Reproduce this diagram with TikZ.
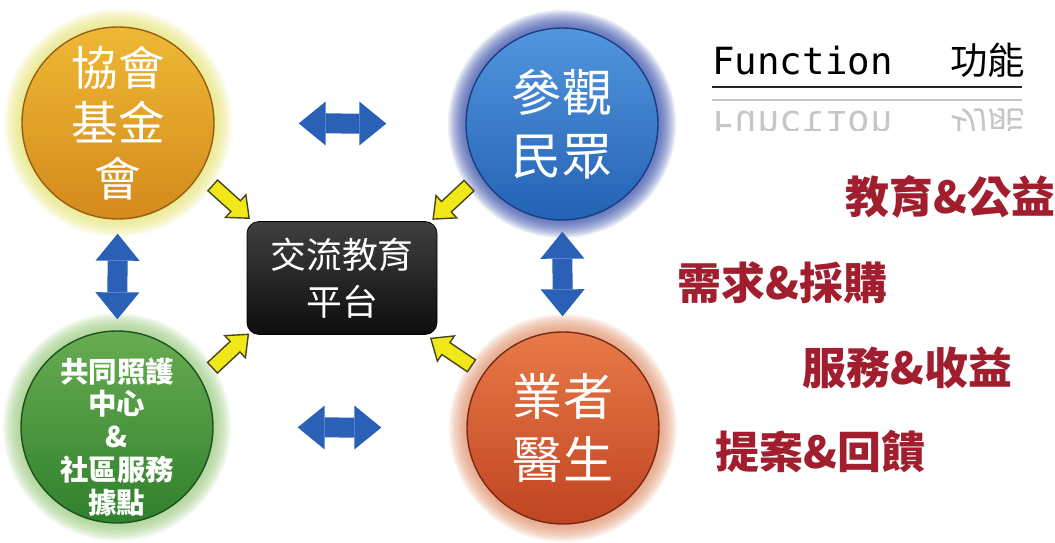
\documentclass[tikz,border=0pt]{standalone}
\usepackage{fontspec}
\setmainfont{DejaVu Sans}
\newfontfamily\cjk{Noto Sans CJK TC}
\newfontfamily\monofn{DejaVu Sans Mono}
\usetikzlibrary{arrows.meta,shapes.arrows,calc}

\definecolor{yeltop}{RGB}{238,184,52}
\definecolor{yelbot}{RGB}{212,138,28}
\definecolor{yelrim}{RGB}{150,95,20}
\definecolor{yelglow}{RGB}{228,226,110}
\definecolor{blutop}{RGB}{82,150,222}
\definecolor{blubot}{RGB}{36,98,180}
\definecolor{blurim}{RGB}{25,60,130}
\definecolor{bluglow}{RGB}{45,70,165}
\definecolor{grntop}{RGB}{104,172,82}
\definecolor{grnbot}{RGB}{48,128,44}
\definecolor{grnrim}{RGB}{30,80,30}
\definecolor{grnglow}{RGB}{150,200,120}
\definecolor{orgtop}{RGB}{232,122,72}
\definecolor{orgbot}{RGB}{192,68,34}
\definecolor{orgrim}{RGB}{120,40,20}
\definecolor{orgglow}{RGB}{222,140,100}
\definecolor{arrblue}{RGB}{42,96,182}
\definecolor{arryel}{RGB}{240,232,24}
\definecolor{yeldark}{RGB}{70,70,30}
\definecolor{fnred}{RGB}{160,30,45}

\begin{document}
\begin{tikzpicture}[
  ball/.style n args={3}{circle, minimum size=3.84cm, inner sep=0pt, top color=#1, bottom color=#2, draw=#3, line width=0.8pt, text=white, align=center},
  platbox/.style={rectangle, rounded corners=0.24cm, minimum width=3.8cm, minimum height=2.26cm, top color=black!75, bottom color=black!95, draw=black, text=white, align=center, font=\cjk\fontsize{20.4}{26.6}\selectfont},
  bluearr/.style={draw=arrblue, line width=0.4cm, >={Triangle[length=0.54cm,width=0.88cm,line width=0pt]}, <->},
  yelarr/.style={single arrow, draw=yeldark, fill=arryel, line width=0.8pt, minimum height=0.98cm, inner sep=0.13cm, single arrow head extend=0.16cm, single arrow tip angle=80},
  fn/.style={anchor=west, inner sep=0pt, text=fnred, font=\cjk\bfseries\fontsize{25}{25}\selectfont},
  ttlfont/.style={font=\monofn\fontsize{21.3}{24}\selectfont}
]
\useasboundingbox (0,0) rectangle (21.1,-10.86);

\coordinate (pyel) at (2.36,-2.46);
\coordinate (pblu) at (11.24,-2.48);
\coordinate (pgrn) at (2.34,-8.54);
\coordinate (porg) at (11.26,-8.56);

% glow round the balls
\foreach \c/\g in {pyel/yelglow, pblu/bluglow, pgrn/grnglow, porg/orgglow}
  \foreach \r in {2.28,2.25,...,1.96}
    \fill[\g, opacity=0.1] (\c) circle [radius=\r];

\node[ball={yeltop}{yelbot}{yelrim}, font=\cjk\fontsize{26.5}{31.7}\selectfont] (yel) at (pyel) {協會\\基金\\會};
\node[ball={blutop}{blubot}{blurim}, font=\cjk\fontsize{28.5}{35.7}\selectfont] (blu) at (pblu) {參觀\\民眾};
\node[ball={grntop}{grnbot}{grnrim}] (grn) at (pgrn) {};
\node[text=white, align=center, font=\cjk\bfseries\fontsize{16.2}{18.7}\selectfont] (grntxt) at ($(grn)+(0,-0.2)$) {共同照護\\中心\\\&\\社區服務\\據點};
\node[ball={orgtop}{orgbot}{orgrim}, font=\cjk\fontsize{28.5}{35.7}\selectfont] (org) at (porg) {業者\\醫生};
\node[platbox] (plat) at (6.84,-5.56) {交流教育\\平台};

\draw[bluearr, shorten <=1.68cm, shorten >=1.58cm] (yel) -- (blu);
\draw[bluearr, shorten <=1.68cm, shorten >=1.7cm] (grn) -- (org);
\draw[bluearr, shorten <=0.28cm, shorten >=0.22cm] (yel) -- (grn);
\draw[bluearr, shorten <=0.22cm, shorten >=0.3cm] (blu) -- (org);

\node[yelarr, rotate=-42] (a1) at ($(yel)!0.49!(plat)$) {};
\node[yelarr, rotate=-137] (a2) at ($(blu)!0.49!(plat)$) {};
\node[yelarr, rotate=43] (a3) at ($(grn)!0.49!(plat)$) {};
\node[yelarr, rotate=146] (a4) at ($(org)!0.49!(plat)$) {};

% title and its mirror
\node[ttlfont, anchor=base west, inner sep=0pt] (ttl) at (14.24,-1.5) {Function\hspace{1.15cm}{\cjk 功能}};
\draw[line width=1.7pt, black!85] (14.24,-1.74) -- (20.44,-1.74);
\draw[line width=1.2pt, gray!45] (14.24,-2.0) -- (20.44,-2.0);
\begin{scope}
\clip (14,-2.04) rectangle (20.6,-2.62);
\node[ttlfont, anchor=base west, inner sep=0pt, yscale=-1, text=gray!45] (ttlr) at (14.24,-2.24) {Function\hspace{1.15cm}{\cjk 功能}};
\end{scope}

\node[fn] (f1) at (16.9,-3.94) {教育\&公益};
\node[fn] (f2) at (13.54,-5.66) {需求\&採購};
\node[fn] (f3) at (16.04,-7.36) {服務\&收益};
\node[fn] (f4) at (14.3,-9.04) {提案\&回饋};
\end{tikzpicture}
\end{document}
